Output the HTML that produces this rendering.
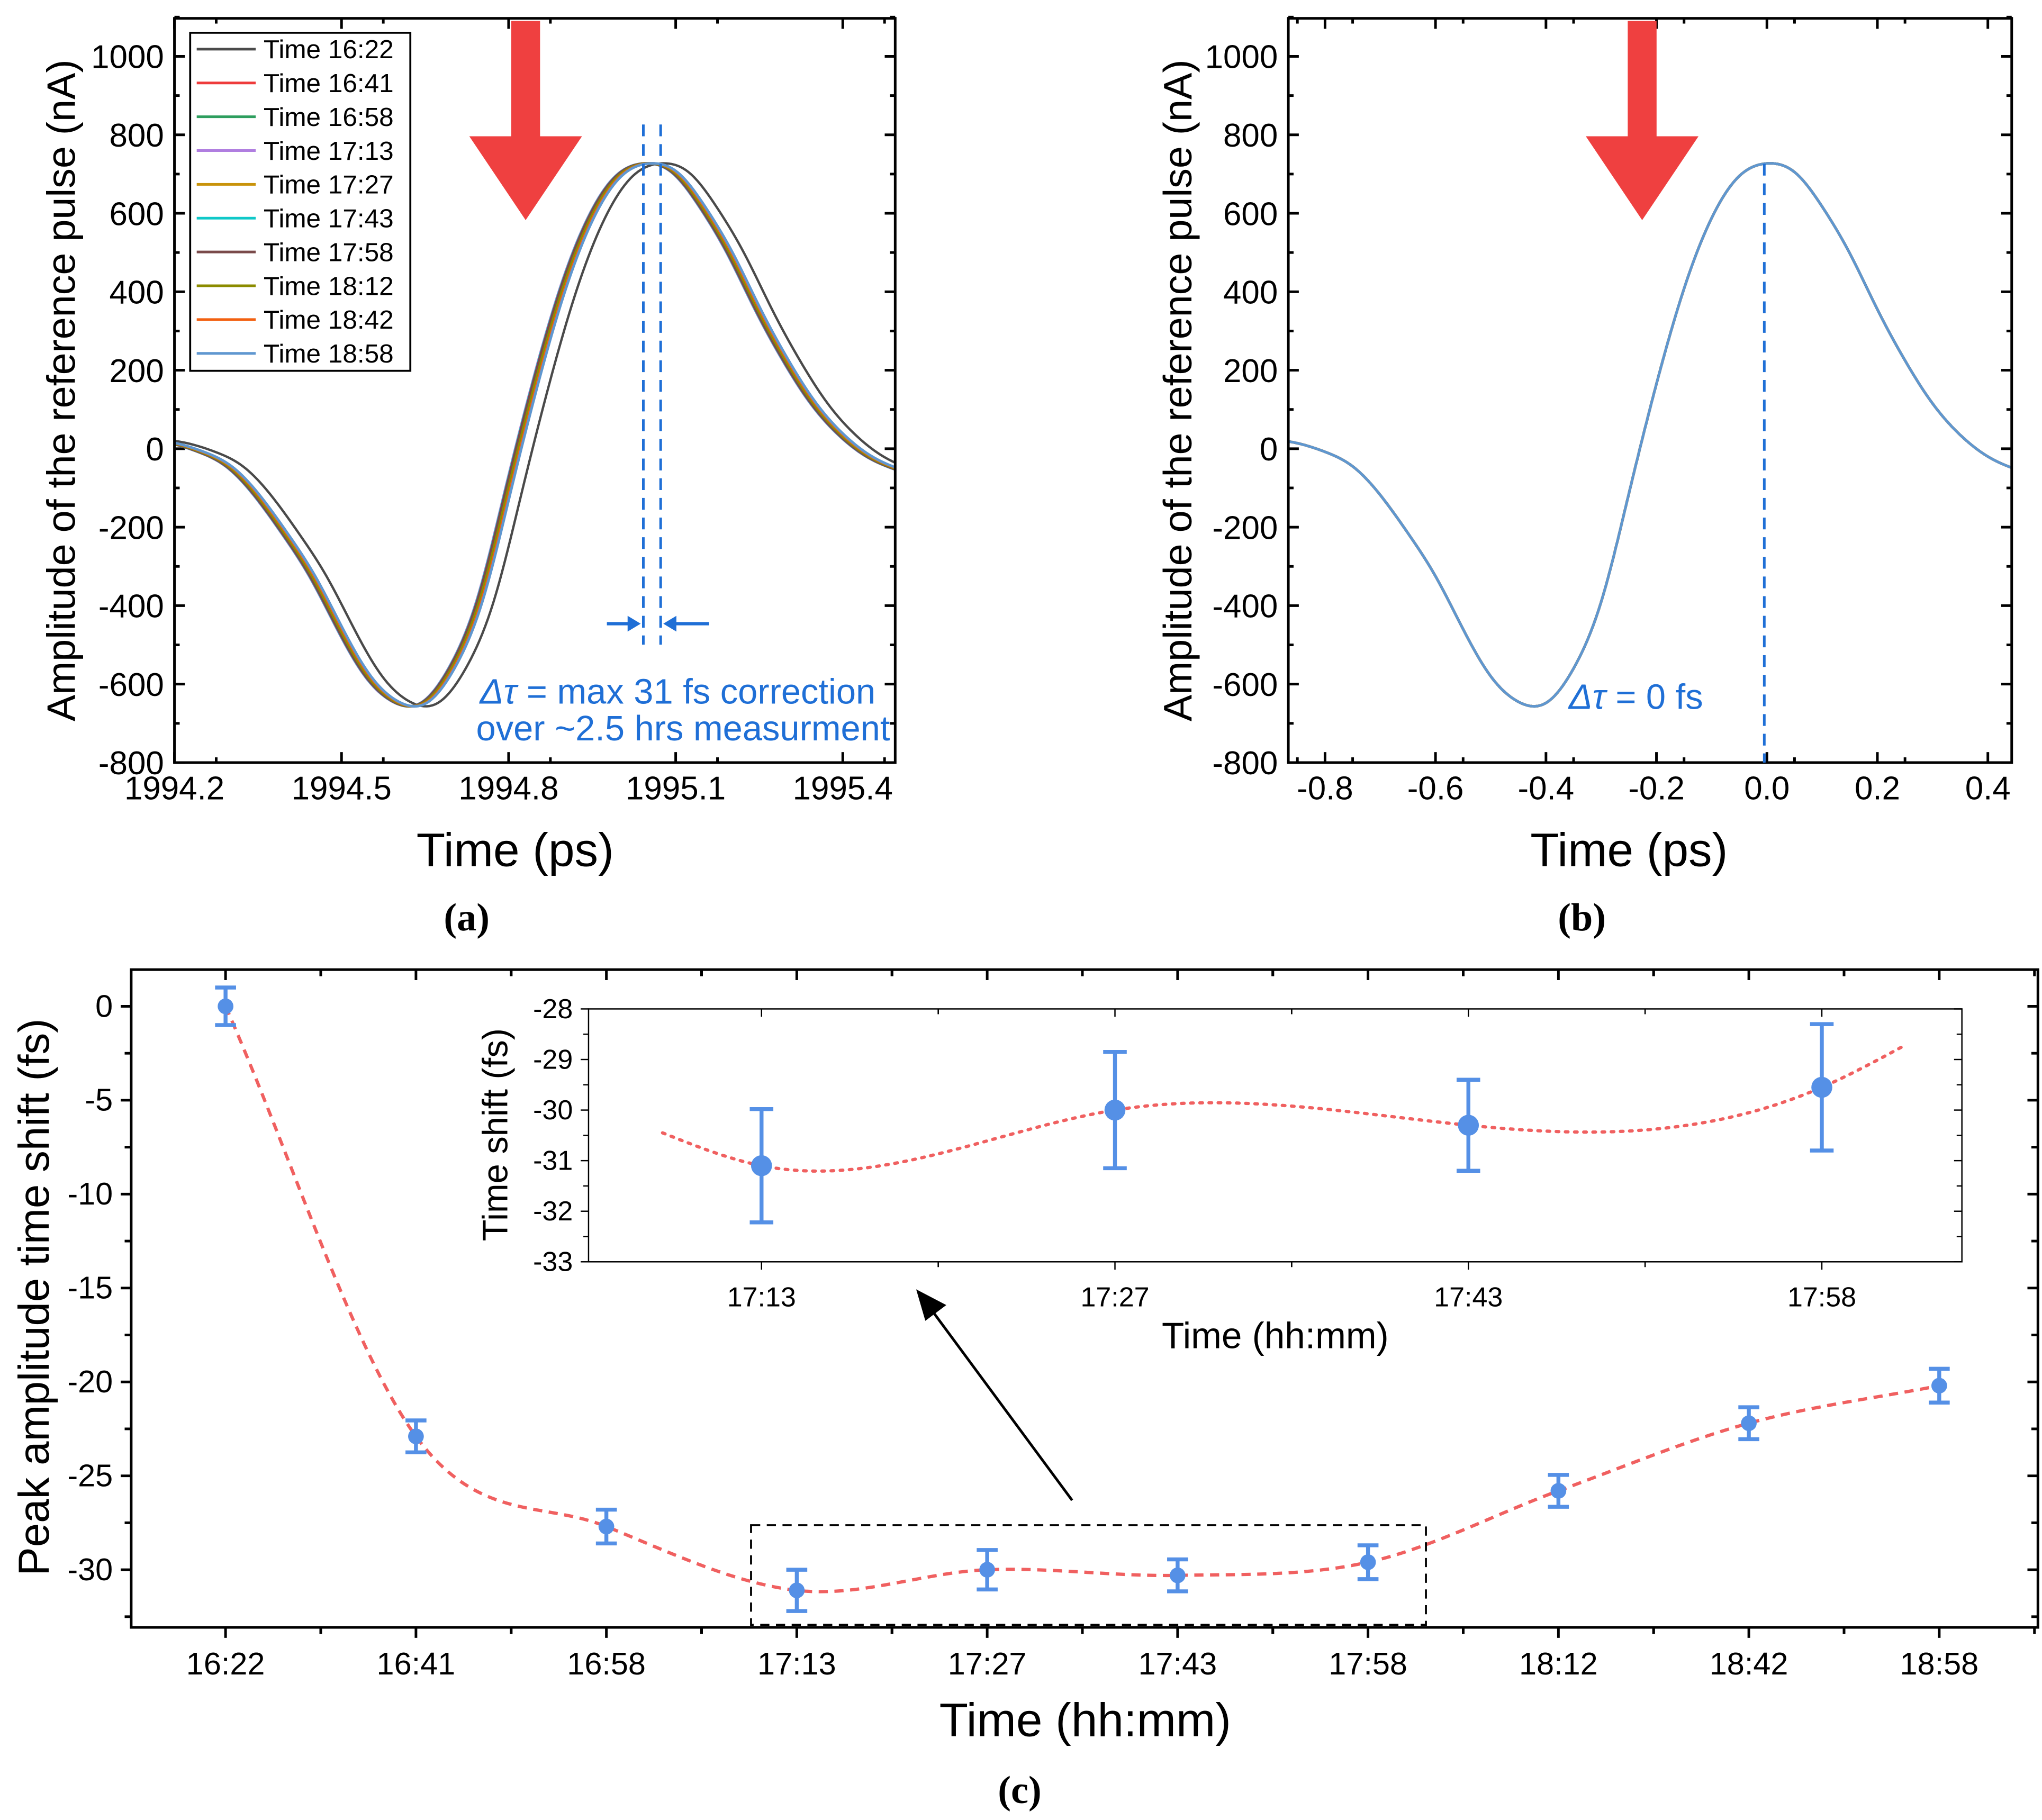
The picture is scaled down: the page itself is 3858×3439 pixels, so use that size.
<!DOCTYPE html>
<html><head><meta charset="utf-8"><style>
html,body{margin:0;padding:0;background:#fff}
svg{display:block}
text{font-family:"Liberation Sans",Arial,sans-serif;fill:#000}
.serif{font-family:"Liberation Serif",serif;font-weight:bold}
</style></head><body>
<svg id="fig" width="3858" height="3439" viewBox="0 0 1558 1389" xmlns="http://www.w3.org/2000/svg"></svg>
<script>
// ---- data ----
const seriesLabels=["Time 16:22","Time 16:41","Time 16:58","Time 17:13","Time 17:27","Time 17:43","Time 17:58","Time 18:12","Time 18:42","Time 18:58"];
const seriesColors=["#4a4a4a","#ee3b3b","#2e9e5e","#b07ee0","#c8930a","#10c8c8","#7a4a4a","#8c8c00","#f26010","#5f97d0"];
const shiftValues=[0,-22.9,-27.7,-31.1,-30.0,-30.3,-29.6,-25.8,-22.2,-20.2];
const shiftErrors=[1.0,0.85,0.9,1.1,1.05,0.85,0.9,0.85,0.85,0.9];
const catLabels=["16:22","16:41","16:58","17:13","17:27","17:43","17:58","18:12","18:42","18:58"];
// reference waveform, time relative to its peak (ps) and amplitude (nA)
const waveT=[-0.90,-0.85,-0.80,-0.75,-0.70,-0.65,-0.60,-0.55,-0.50,-0.45,-0.40,-0.35,-0.30,-0.25,-0.20,-0.15,-0.10,-0.05,0.00,0.05,0.10,0.15,0.20,0.25,0.30,0.35,0.40,0.45,0.50];
const waveA=[25,14,-8,-45,-118,-215,-325,-460,-580,-645,-648,-560,-390,-115,165,408,588,695,727,705,617,498,355,225,115,35,-20,-52,-75];
const inLabels=["17:13","17:27","17:43","17:58"];
const inValues=[-31.1,-30.0,-30.3,-29.55];
const inErrors=[1.12,1.15,0.9,1.25];
const inFitStart=-30.45, inFitEnd=-28.7;
const aTicksX=[1994.2,1994.5,1994.8,1995.1,1995.4];
const bTicksX=[-0.8,-0.6,-0.4,-0.2,0.0,0.2,0.4];
const ampTicks=[-800,-600,-400,-200,0,200,400,600,800,1000];
const cTicksY=[0,-5,-10,-15,-20,-25,-30];
const inTicksY=[-28,-29,-30,-31,-32,-33];
const peakA=1995.073;

const S=document.getElementById('fig');
const NS='http://www.w3.org/2000/svg';
function el(tag,at,parent){const e=document.createElementNS(NS,tag);for(const k in at)e.setAttribute(k,at[k]);(parent||S).appendChild(e);return e;}
function txt(s,x,y,sz,anchor,parent,extra){const t=el('text',Object.assign({x:x,y:y,'font-size':sz,'text-anchor':anchor||'middle'},extra||{}),parent);t.textContent=s;return t;}
function lin(d0,d1,r0,r1){return v=>r0+(v-d0)*(r1-r0)/(d1-d0);}
function g(name){const e=el('g',{});return e;}
function spline(pts){
  const n=pts.length;
  const P=i=>{if(i<0)return [2*pts[0][0]-pts[1][0],2*pts[0][1]-pts[1][1]];
    if(i>=n)return [2*pts[n-1][0]-pts[n-2][0],2*pts[n-1][1]-pts[n-2][1]];return pts[i];};
  let d='M'+pts[0][0]+','+pts[0][1];
  for(let i=0;i<n-1;i++){
    const p0=P(i-1),p1=P(i),p2=P(i+1),p3=P(i+2);
    const c1=[p1[0]+(p2[0]-p0[0])/6,p1[1]+(p2[1]-p0[1])/6],c2=[p2[0]-(p3[0]-p1[0])/6,p2[1]-(p3[1]-p1[1])/6];
    d+=` C${c1[0]},${c1[1]} ${c2[0]},${c2[1]} ${p2[0]},${p2[1]}`;
  }
  return d;
}
// natural cubic spline y(x)
function natSpline(xs,ys){
  const n=xs.length,h=[],al=[],l=[1],mu=[0],z=[0],c=new Array(n).fill(0),b=[],d=[];
  for(let i=0;i<n-1;i++)h[i]=xs[i+1]-xs[i];
  for(let i=1;i<n-1;i++)al[i]=3/h[i]*(ys[i+1]-ys[i])-3/h[i-1]*(ys[i]-ys[i-1]);
  for(let i=1;i<n-1;i++){l[i]=2*(xs[i+1]-xs[i-1])-h[i-1]*mu[i-1];mu[i]=h[i]/l[i];z[i]=(al[i]-h[i-1]*z[i-1])/l[i];}
  l[n-1]=1;z[n-1]=0;
  for(let j=n-2;j>=0;j--){c[j]=z[j]-mu[j]*c[j+1];b[j]=(ys[j+1]-ys[j])/h[j]-h[j]*(c[j+1]+2*c[j])/3;d[j]=(c[j+1]-c[j])/(3*h[j]);}
  return x=>{let i=0;while(i<n-2&&x>xs[i+1])i++;const dx=x-xs[i];return ys[i]+b[i]*dx+c[i]*dx*dx+d[i]*dx*dx*dx;};
}
const waveFn=natSpline(waveT,waveA);

function ampPanel(opt){
  const G=g(opt.name);
  const L=opt.L,R=opt.R,T=14,B=582;
  const X=lin(opt.x0,opt.x1,L,R), Y=lin(1000,-800,43,582);
  opt.ticks.forEach((v,i)=>{const x=X(v);
    el('line',{x1:x,y1:B,x2:x,y2:B-8,stroke:'#000','stroke-width':2},G);
    el('line',{x1:x,y1:T,x2:x,y2:T+8,stroke:'#000','stroke-width':2},G);
    const tl=txt(opt.fmt(v),x,610,25,'middle',G);
    
    const m=v+opt.step/2; if(m<opt.x1){const xm=X(m);
      el('line',{x1:xm,y1:B,x2:xm,y2:B-4,stroke:'#000','stroke-width':2},G);
      el('line',{x1:xm,y1:T,x2:xm,y2:T+4,stroke:'#000','stroke-width':2},G);}
    const m2=v-opt.step/2; if(i==0&&m2>opt.x0){const xm=X(m2);
      el('line',{x1:xm,y1:B,x2:xm,y2:B-4,stroke:'#000','stroke-width':2},G);
      el('line',{x1:xm,y1:T,x2:xm,y2:T+4,stroke:'#000','stroke-width':2},G);}
  });
  ampTicks.forEach(v=>{const y=Y(v);
    el('line',{x1:L,y1:y,x2:L+8,y2:y,stroke:'#000','stroke-width':2},G);
    el('line',{x1:R,y1:y,x2:R-8,y2:y,stroke:'#000','stroke-width':2},G);
    const ym=Y(v+100);
    el('line',{x1:L,y1:ym,x2:L+4,y2:ym,stroke:'#000','stroke-width':2},G);
    el('line',{x1:R,y1:ym,x2:R-4,y2:ym,stroke:'#000','stroke-width':2},G);
    const tl=txt(String(v),L-8,y+9,25,'end',G);
    
  });
  const clip=el('clipPath',{id:'clip'+opt.name},G);el('rect',{x:L,y:T,width:R-L,height:B-T},clip);
  const cg=el('g',{'clip-path':'url(#clip'+opt.name+')'},G);
  seriesLabels.forEach((lab,i)=>{
    const off=opt.shift(i);
    const pts=[];
    for(let t=waveT[0];t<=waveT[waveT.length-1]+1e-9;t+=0.005)pts.push(X(opt.base+t+off).toFixed(2)+','+Y(waveFn(t)).toFixed(2));
    const p=el('polyline',{points:pts.join(' '),fill:'none',stroke:seriesColors[i],'stroke-width':i==0?1.8:2,'stroke-linejoin':'round'},cg);
    
    
  });
  el('rect',{x:L,y:T,width:R-L,height:B-T,fill:'none',stroke:'#000','stroke-width':2},G);
  const yt=txt('Amplitude of the reference pulse (nA)',0,0,30.5,'middle',G,{transform:`translate(${opt.ytx},298) rotate(-90)`});
  
  const xt=txt('Time (ps)',opt.xtx,661,36,'middle',G);
  
  const pl=txt(opt.label,opt.plx,710,30,'middle',G,{class:'serif'});
  
  const ax=opt.arrowX;
  const ar=el('polygon',{points:`${ax-11},16 ${ax+11},16 ${ax+11},104 ${ax+43},104 ${ax},168 ${ax-43},104 ${ax-11},104`,fill:'#ef4040'},G);
  
  return {G,X,Y,L,R,T,B};
}

const A=ampPanel({name:'panel-a',L:133,R:683,x0:1994.2,x1:1994.2+550/425,ticks:aTicksX,step:0.15,fmt:v=>v.toFixed(1),
  base:peakA,shift:i=>shiftValues[i]/1000,ytx:57,xtx:393,plx:356,label:'(a)',arrowX:401});
const Bp=ampPanel({name:'panel-b',L:983,R:1535,x0:-0.8-28/421.5,x1:-0.8-28/421.5+552/421.5,ticks:bTicksX,step:0.1,fmt:v=>v.toFixed(1),
  base:0,shift:i=>0,ytx:909,xtx:1243,plx:1207,label:'(b)',arrowX:1253});

(function(){
  const G=g('legend');
  el('rect',{x:145,y:25,width:168,height:258,fill:'#fff',stroke:'#000','stroke-width':1.5},G);
  seriesLabels.forEach((lab,i)=>{const y=37.5+i*25.8;
    const e=el('g',{},G);
    el('line',{x1:150,y1:y,x2:195,y2:y,stroke:seriesColors[i],'stroke-width':2},e);
    txt(lab,201,y+7,20,'start',e);
  });
})();
(function(){
  const G=g('annotation-a');
  const xr=A.X(peakA), xs=A.X(peakA+Math.min(...shiftValues)/1000);
  [xs,xr].forEach(x=>el('line',{x1:x,y1:95,x2:x,y2:492,stroke:'#1f6fd6','stroke-width':2,'stroke-dasharray':'9,6'},G));
  el('line',{x1:463,y1:476,x2:xs-4,y2:476,stroke:'#1f6fd6','stroke-width':2.5},G);
  el('polygon',{points:`${xs-2},476 ${xs-12},470 ${xs-12},482`,fill:'#1f6fd6'},G);
  el('line',{x1:541,y1:476,x2:xr+4,y2:476,stroke:'#1f6fd6','stroke-width':2.5},G);
  el('polygon',{points:`${xr+2},476 ${xr+12},470 ${xr+12},482`,fill:'#1f6fd6'},G);
  const t1=el('text',{x:668,y:537,'font-size':27,'text-anchor':'end',style:'fill:#1f6fd6'},G);
  t1.innerHTML='<tspan font-style="italic" style="fill:#1f6fd6">Δτ</tspan> = max 31 fs correction';
  const t2=txt('over ~2.5 hrs measurment',679,565,27,'end',G);t2.style.fill='#1f6fd6';
  const G2=g('annotation-b');
  const x0=Bp.X(0);
  el('line',{x1:x0-2,y1:125,x2:x0-2,y2:582,stroke:'#1f6fd6','stroke-width':2,'stroke-dasharray':'9,6'},G2);
  const t3=el('text',{x:1197,y:541,'font-size':27,'text-anchor':'start',style:'fill:#1f6fd6'},G2);
  t3.innerHTML='<tspan font-style="italic" style="fill:#1f6fd6">Δτ</tspan> = 0 fs';
})();

(function(){
  const G=g('panel-c');
  const L=100,R=1555,T=740,B=1242;
  const X=i=>172+i*145.3, Y=lin(0,-30,768,1198);
  el('rect',{x:L,y:T,width:R-L,height:B-T,fill:'none',stroke:'#000','stroke-width':2},G);
  catLabels.forEach((c,i)=>{const x=X(i);
    el('line',{x1:x,y1:B,x2:x,y2:B+8,stroke:'#000','stroke-width':2},G);
    el('line',{x1:x,y1:T,x2:x,y2:T+8,stroke:'#000','stroke-width':2},G);
    [x-72.65,x+72.65].forEach(xm=>{if(xm>L&&xm<R){
      el('line',{x1:xm,y1:B,x2:xm,y2:B+5,stroke:'#000','stroke-width':2},G);
      el('line',{x1:xm,y1:T,x2:xm,y2:T+5,stroke:'#000','stroke-width':2},G);}});
    const tl=txt(c,x,1278,24,'middle',G);
  });
  cTicksY.forEach(v=>{const y=Y(v);
    el('line',{x1:L,y1:y,x2:L-8,y2:y,stroke:'#000','stroke-width':2},G);
    el('line',{x1:R,y1:y,x2:R-8,y2:y,stroke:'#000','stroke-width':2},G);
    const ym=Y(v-2.5);
    el('line',{x1:L,y1:ym,x2:L-5,y2:ym,stroke:'#000','stroke-width':2},G);
    el('line',{x1:R,y1:ym,x2:R-5,y2:ym,stroke:'#000','stroke-width':2},G);
    const tl=txt(String(v),L-14,y+8,24,'end',G);
  });
  const yt=txt('Peak amplitude time shift (fs)',0,0,33,'middle',G,{transform:'translate(37,990) rotate(-90)'});
  
  const xt=txt('Time (hh:mm)',828,1325,36,'middle',G);
  const pl=txt('(c)',778,1376,30,'middle',G,{class:'serif'});
  const pts=shiftValues.map((v,i)=>[X(i),Y(v)]);
  const fit=el('path',{d:spline(pts),fill:'none',stroke:'#f06060','stroke-width':2.5,'stroke-dasharray':'7,5'},G);
  
  shiftValues.forEach((v,i)=>{const x=X(i);
    const e=el('g',{},G);
    const y1=Y(v+shiftErrors[i]),y2=Y(v-shiftErrors[i]);
    el('line',{x1:x,y1:y1,x2:x,y2:y2,stroke:'#5590e6','stroke-width':3},e);
    el('line',{x1:x-8,y1:y1,x2:x+8,y2:y1,stroke:'#5590e6','stroke-width':3},e);
    el('line',{x1:x-8,y1:y2,x2:x+8,y2:y2,stroke:'#5590e6','stroke-width':3},e);
    el('circle',{cx:x,cy:Y(v),r:6,fill:'#5590e6'},e);
  });
  const zr=el('rect',{x:573,y:1164,width:515,height:76,fill:'none',stroke:'#000','stroke-width':1.5,'stroke-dasharray':'7,5'},G);
  
  el('line',{x1:818,y1:1145,x2:708,y2:996,stroke:'#000','stroke-width':2},G);
  el('polygon',{points:'699,984 722,996 706,1008',fill:'#000'},G);

  const I=g('inset-chart');
  const iL=449,iR=1497,iT=770,iB=963;
  const IX=i=>581+i*269.7, IY=lin(-28,-33,770,963);
  el('rect',{x:iL,y:iT,width:iR-iL,height:iB-iT,fill:'#fff',stroke:'#000','stroke-width':1},I);
  inLabels.forEach((c,i)=>{const x=IX(i);
    el('line',{x1:x,y1:iB,x2:x,y2:iB+6,stroke:'#000','stroke-width':1},I);
    el('line',{x1:x,y1:iT,x2:x,y2:iT+6,stroke:'#000','stroke-width':1},I);
    [x-134.85,x+134.85].forEach(xm=>{if(xm>iL&&xm<iR){
      el('line',{x1:xm,y1:iB,x2:xm,y2:iB+4,stroke:'#000','stroke-width':1},I);
      el('line',{x1:xm,y1:iT,x2:xm,y2:iT+4,stroke:'#000','stroke-width':1},I);}});
    const tl=txt(c,x,997,21,'middle',I);
  });
  inTicksY.forEach(v=>{const y=IY(v);
    el('line',{x1:iL,y1:y,x2:iL-6,y2:y,stroke:'#000','stroke-width':1},I);
    el('line',{x1:iR,y1:y,x2:iR-6,y2:y,stroke:'#000','stroke-width':1},I);
    if(v>-33){const ym=IY(v-0.5);
      el('line',{x1:iL,y1:ym,x2:iL-4,y2:ym,stroke:'#000','stroke-width':1},I);
      el('line',{x1:iR,y1:ym,x2:iR-4,y2:ym,stroke:'#000','stroke-width':1},I);}
    const tl=txt(String(v),iL-12,y+7,21,'end',I);
  });
  const it=txt('Time shift (fs)',0,0,27,'middle',I,{transform:'translate(387,866) rotate(-90)'});
  
  const ix=txt('Time (hh:mm)',973,1029,28,'middle',I);
  const ixs=[-0.28,0,1,2,3,3.24];
  const iys=[inFitStart].concat(inValues).concat([inFitEnd]);
  const fin=natSpline(ixs,iys);
  const ip=[];for(let t=-0.28;t<=3.2401;t+=0.02)ip.push(IX(t).toFixed(2)+','+IY(fin(t)).toFixed(2));
  const f2=el('polyline',{points:ip.join(' '),fill:'none',stroke:'#f06060','stroke-width':2.5,'stroke-dasharray':'2,5','stroke-linecap':'round'},I);
  
  inValues.forEach((v,i)=>{const x=IX(i);
    const e=el('g',{},I);
    const y1=IY(v+inErrors[i]),y2=IY(v-inErrors[i]);
    el('line',{x1:x,y1:y1,x2:x,y2:y2,stroke:'#5590e6','stroke-width':3},e);
    el('line',{x1:x-9,y1:y1,x2:x+9,y2:y1,stroke:'#5590e6','stroke-width':3},e);
    el('line',{x1:x-9,y1:y2,x2:x+9,y2:y2,stroke:'#5590e6','stroke-width':3},e);
    el('circle',{cx:x,cy:IY(v),r:8,fill:'#5590e6'},e);
  });
})();
</script>
</body></html>
